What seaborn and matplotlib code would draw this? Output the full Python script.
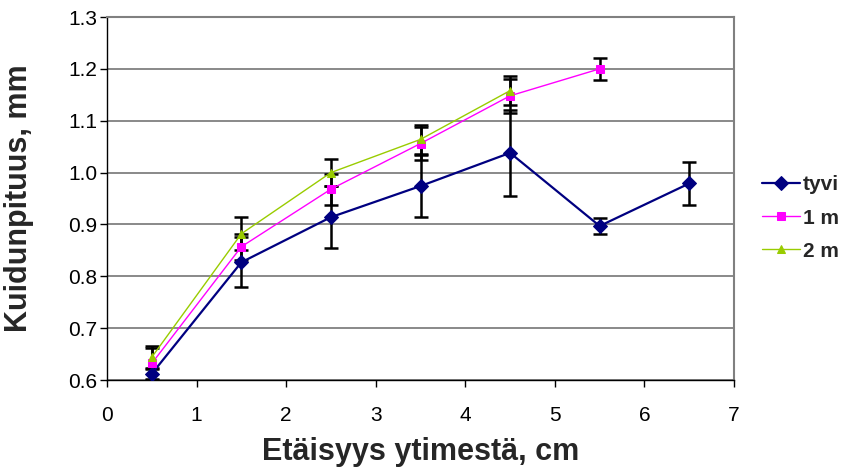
import matplotlib
matplotlib.use("Agg")
import matplotlib.pyplot as plt
import seaborn as sns
import pandas as pd
import numpy as np

x_tyvi = [0.5, 1.5, 2.5, 3.5, 4.5, 5.5, 6.5]
y_tyvi = [0.612, 0.827, 0.914, 0.974, 1.038, 0.897, 0.979]
e_tyvi = [0.012, 0.048, 0.060, 0.060, 0.083, 0.015, 0.041]

x_1m = [0.5, 1.5, 2.5, 3.5, 4.5, 5.5]
y_1m = [0.632, 0.857, 0.968, 1.056, 1.148, 1.200]
e_1m = [0.030, 0.025, 0.030, 0.032, 0.033, 0.021]

x_2m = [0.5, 1.5, 2.5, 3.5, 4.5]
y_2m = [0.644, 0.882, 1.000, 1.064, 1.158]
e_2m = [0.022, 0.032, 0.026, 0.028, 0.028]

series_names = ["tyvi", "1 m", "2 m"]
colors = ["#000080", "#FF00FF", "#99CC00"]
markers = ["D", "s", "^"]

sns.set_theme(style="white")
plt.rcParams['font.family'] = ['Liberation Sans', 'DejaVu Sans']

W, H = 844, 470
fig = plt.figure(figsize=(W/100, H/100), dpi=100)
L, R, T, B = 107, 734, 17, 380
ax = fig.add_axes([L/W, (H-B)/H, (R-L)/W, (B-T)/H])

data = [(x_tyvi, y_tyvi, e_tyvi), (x_1m, y_1m, e_1m), (x_2m, y_2m, e_2m)]
lws = [1.6, 1.0, 1.0]
msz = [7, 6, 6]

for (xs, ys, es) in data:
    ax.errorbar(xs, ys, yerr=es, fmt="none", ecolor="black", elinewidth=1.8,
                capsize=5, capthick=1.8, zorder=3)

for (xs, ys, es), name, c, m, lw, ms in zip(data, series_names, colors, markers, lws, msz):
    df = pd.DataFrame({"x": xs, "y": ys})
    sns.lineplot(data=df, x="x", y="y", ax=ax, color=c, marker=m, markersize=ms,
                 markeredgecolor=c, linewidth=lw, label=name, zorder=4)

ax.set_xlim(0, 7)
ax.set_ylim(0.6, 1.3)
ax.set_xticks(range(0, 8))
yt = np.arange(0.6, 1.31, 0.1)
ax.set_yticks(yt)
ax.set_yticklabels([f"{v:.1f}" for v in yt])
ax.yaxis.grid(True, color="#808080", linewidth=1.3)
ax.xaxis.grid(False)
ax.set_axisbelow(True)

for s in ["left", "bottom"]:
    ax.spines[s].set_color("black")
    ax.spines[s].set_linewidth(1.0)
for s in ["right", "top"]:
    ax.spines[s].set_color("#808080")
    ax.spines[s].set_linewidth(1.5)

ax.tick_params(axis="both", direction="out", length=5, width=1, color="black",
               labelsize=15, labelcolor="black", bottom=True, left=True)
ax.tick_params(axis="y", pad=2)
ax.tick_params(axis="x", pad=14)

ax.set_xlabel("Etäisyys ytimestä, cm", fontsize=22, fontweight="bold", va="center")
ax.xaxis.set_label_coords(0.5, (B-452)/(B-T))
ax.set_ylabel("Kuidunpituus, mm", fontsize=22, fontweight="bold", va="center", ha="center")
ax.yaxis.set_label_coords((19-L)/(R-L), (B-198)/(B-T))

fs = 15
fspx = fs*100/72
leg = ax.legend(loc="center left", bbox_to_anchor=((762-L)/(R-L), (B-218)/(B-T)),
                frameon=False, prop={"weight": "bold", "size": fs},
                handlelength=38/fspx, labelspacing=(35-fspx)/fspx,
                handletextpad=3/fspx, borderaxespad=0, borderpad=0)

fig.savefig("out.png", dpi=100)
